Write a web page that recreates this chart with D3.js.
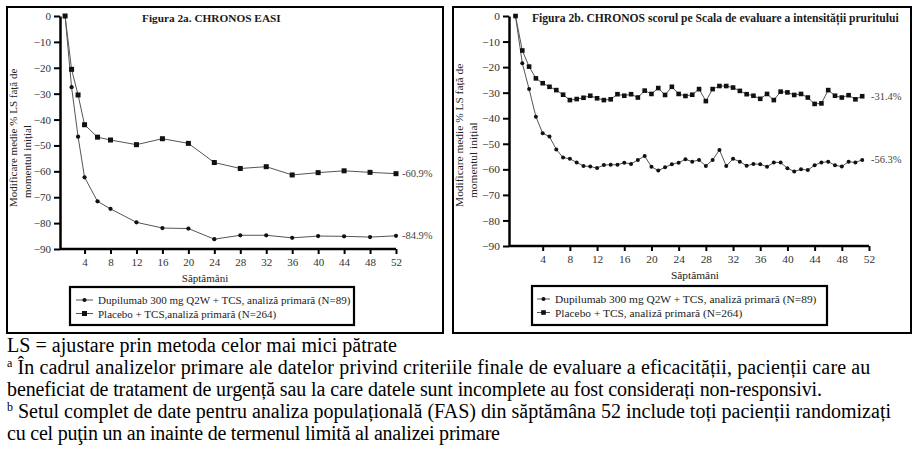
<!DOCTYPE html>
<html>
<head>
<meta charset="utf-8">
<script src="https://cdn.jsdelivr.net/npm/d3@7/dist/d3.min.js"></script>
<style>
  html, body { margin: 0; padding: 0; background: #fff; }
  svg { display: block; }
  text { font-family: "Liberation Serif", "Times New Roman", serif; }
</style>
</head>
<body>
<svg id="chart" width="918" height="458"></svg>
<script>
// ---------- DATA ----------
const weeksA = [1, 2, 3, 4, 6, 8, 12, 16, 20, 24, 28, 32, 36, 40, 44, 48, 52];
const easiDupilumab = [0, -27.5, -46.6, -62.3, -71.6, -74.5, -79.7, -81.9, -82.1, -86.2, -84.7, -84.7, -85.7, -85.0, -85.1, -85.4, -84.9];
const easiPlacebo = [0, -20.6, -30.5, -42.0, -46.8, -47.9, -49.7, -47.4, -49.2, -56.6, -58.9, -58.2, -61.4, -60.5, -59.8, -60.4, -60.9];

const weeksB = [0,1,2,3,4,5,6,7,8,9,10,11,12,13,14,15,16,17,18,19,20,21,22,23,24,25,26,27,28,29,30,31,32,33,34,35,36,37,38,39,40,41,42,43,44,45,46,47,48,49,50,51];
const prurDupilumab = [0,-18.5,-28.6,-39.4,-45.9,-47.2,-52.2,-55.4,-55.9,-57.3,-58.7,-58.9,-59.5,-58.3,-58.2,-58.2,-57.4,-57.9,-56.3,-54.8,-59.0,-60.5,-59.2,-58.0,-57.4,-56.1,-57.0,-56.3,-58.7,-56.3,-52.4,-58.7,-55.9,-57.0,-58.6,-57.9,-58.0,-59.0,-57.3,-57.3,-59.6,-60.8,-60.0,-60.3,-58.4,-57.3,-57.0,-58.4,-58.9,-57.0,-57.3,-56.3];
const prurPlacebo = [0,-13.5,-19.8,-24.4,-26.3,-27.7,-29.0,-30.8,-32.9,-32.5,-32.0,-31.2,-32.2,-32.9,-32.6,-30.6,-31.2,-30.6,-31.9,-29.2,-30.5,-28.2,-30.9,-27.7,-30.5,-31.3,-30.8,-28.6,-33.3,-28.6,-27.4,-27.4,-28.0,-29.3,-30.6,-31.2,-32.4,-30.5,-32.9,-29.6,-29.9,-30.9,-30.5,-31.9,-34.4,-34.2,-29.0,-31.2,-31.9,-31.0,-32.6,-31.4];

const xTickValues = [4, 8, 12, 16, 20, 24, 28, 32, 36, 40, 44, 48, 52];
const yTickValues = [0, -10, -20, -30, -40, -50, -60, -70, -80, -90];

const titleA = "Figura 2a. CHRONOS EASI";
const titleB = "Figura 2b. CHRONOS scorul pe Scala de evaluare a intensității pruritului";
const yTitle1 = "Modificare medie % LS față de";
const yTitle2 = "momentul inițial";
const xTitle = "Săptămâni";
const legendA = ["Dupilumab 300 mg Q2W + TCS, analiză primară  (N=89)", "Placebo + TCS,analiză primară (N=264)"];
const legendB = ["Dupilumab 300 mg Q2W + TCS, analiză primară (N=89)", "Placebo + TCS, analiză primară (N=264)"];
const endLabelsA = ["-84.9%", "-60.9%"];
const endLabelsB = ["-56.3%", "-31.4%"];

const footnotes = [
  {sup: "", text: "LS = ajustare prin metoda celor mai mici pătrate", w: 390},
  {sup: "a", text: " În cadrul analizelor primare ale datelor privind criteriile finale de evaluare a eficacității, pacienții care au", w: 858},
  {sup: "", text: "beneficiat de tratament de urgență sau la care datele sunt incomplete au fost considerați non-responsivi.", w: 815},
  {sup: "b", text: " Setul complet de date pentru analiza populațională (FAS) din săptămâna 52 include toți pacienții randomizați", w: 878},
  {sup: "", text: "cu cel puţin un an inainte de termenul limită al analizei primare", w: 493}
];

// ---------- DRAW ----------
const svg = d3.select("#chart");

function drawPanel(p) {
  const g = svg.append("g");
  g.append("rect").attr("x", p.box[0]).attr("y", p.box[1]).attr("width", p.box[2]).attr("height", p.box[3])
    .attr("fill", "none").attr("stroke", "#000").attr("stroke-width", 2);

  const x = d3.scaleLinear().domain([0, 52]).range(p.xRange);
  const y = d3.scaleLinear().domain([0, -90]).range(p.yRange);

  g.append("text").attr("x", p.titleX).attr("y", 22).attr("font-size", p.titleSize).attr("font-weight", "bold")
    .attr("fill", "#1a1a1a").text(p.title);

  const ya = g.append("g").attr("transform", `translate(${p.axisX},0)`)
    .call(d3.axisLeft(y).tickValues(yTickValues).tickSize(6).tickSizeOuter(0).tickPadding(3).tickFormat(d3.format("d")));
  ya.select(".domain").attr("stroke-width", 2.5).attr("stroke", "#000");
  ya.selectAll(".tick line").attr("stroke-width", 2).attr("stroke", "#000");
  ya.selectAll(".tick text").attr("font-family", "Liberation Serif").attr("font-size", p.fs).attr("fill", "#333");

  const xa = g.append("g").attr("transform", `translate(0,${p.yRange[1]})`)
    .call(d3.axisBottom(x).tickValues(xTickValues).tickSize(5).tickSizeOuter(0).tickPadding(4));
  xa.select(".domain").remove();
  xa.append("line").attr("x1", p.axisX).attr("x2", x(52)).attr("y1", 0).attr("y2", 0)
    .attr("stroke", "#000").attr("stroke-width", 2.5);
  xa.selectAll(".tick line").attr("stroke-width", 2).attr("stroke", "#000");
  xa.selectAll(".tick text").attr("font-family", "Liberation Serif").attr("font-size", p.fs).attr("fill", "#333");

  g.append("text").attr("x", p.xTitleX).attr("y", p.yRange[1] + 33).attr("text-anchor", "middle")
    .attr("font-size", p.fs).attr("fill", "#222").text(xTitle);
  g.append("text").attr("transform", `translate(${p.box[0] + 10},207) rotate(-90)`)
    .attr("font-size", p.fs).attr("fill", "#222").text(yTitle1);
  g.append("text").attr("transform", `translate(${p.box[0] + 24},198) rotate(-90)`)
    .attr("font-size", p.fs).attr("fill", "#222").text(yTitle2);

  const line = d3.line().x(d => x(d[0])).y(d => y(d[1]));
  p.series.forEach(s => {
    const pts = p.weeks.map((w, i) => [w, s.values[i]]);
    g.append("path").datum(pts).attr("d", line).attr("fill", "none").attr("stroke", "#555").attr("stroke-width", 1);
    if (s.shape === "square") {
      g.selectAll(null).data(pts).enter().append("rect")
        .attr("x", d => x(d[0]) - p.sq / 2).attr("y", d => y(d[1]) - p.sq / 2)
        .attr("width", p.sq).attr("height", p.sq).attr("fill", "#111");
    } else {
      g.selectAll(null).data(pts).enter().append("circle")
        .attr("cx", d => x(d[0])).attr("cy", d => y(d[1])).attr("r", p.cr).attr("fill", "#111");
    }
    g.append("text").attr("x", p.endLabelX).attr("y", y(s.values[s.values.length - 1]) + 3.5)
      .attr("font-size", 10.5).attr("fill", "#444").text(s.endLabel);
  });

  const lg = g.append("g");
  lg.append("rect").attr("x", p.legend[0]).attr("y", p.legend[1]).attr("width", p.legend[2]).attr("height", p.legend[3])
    .attr("fill", "#fff").attr("stroke", "#000").attr("stroke-width", 2.2);
  p.series.forEach((s, i) => {
    const cy = p.legend[1] + 13 + i * 13.5;
    const lx = p.legend[0] + p.legSym[0];
    lg.append("line").attr("x1", lx).attr("x2", lx + p.legSym[1]).attr("y1", cy).attr("y2", cy)
      .attr("stroke", "#555").attr("stroke-width", 1);
    const mx = lx + p.legSym[1] / 2;
    if (s.shape === "square") {
      lg.append("rect").attr("x", mx - p.sq / 2).attr("y", cy - p.sq / 2).attr("width", p.sq).attr("height", p.sq).attr("fill", "#111");
    } else {
      lg.append("circle").attr("cx", mx).attr("cy", cy).attr("r", p.cr).attr("fill", "#111");
    }
    lg.append("text").attr("x", lx + p.legSym[1] + 5).attr("y", cy + 4).attr("font-size", p.fs).attr("fill", "#222").text(s.legend);
  });
}

drawPanel({
  box: [7, 7, 436, 326],
  xRange: [58.6, 396], yRange: [16, 249], axisX: 60,
  title: titleA, titleX: 142, titleSize: 11.3, fs: 11,
  xTitleX: 205, endLabelX: 402,
  weeks: weeksA, sq: 5, cr: 2.1,
  legend: [70, 287, 284, 38], legSym: [6, 17],
  series: [
    {values: easiDupilumab, shape: "circle", legend: legendA[0], endLabel: endLabelsA[0]},
    {values: easiPlacebo, shape: "square", legend: legendA[1], endLabel: endLabelsA[1]}
  ]
});

drawPanel({
  box: [453, 7, 458, 326],
  xRange: [515.5, 869], yRange: [16, 246], axisX: 509,
  title: titleB, titleX: 532, titleSize: 11.6, fs: 11.4,
  xTitleX: 695, endLabelX: 871,
  weeks: weeksB, sq: 4.6, cr: 2,
  legend: [532, 286, 295, 39], legSym: [5, 13],
  series: [
    {values: prurDupilumab, shape: "circle", legend: legendB[0], endLabel: endLabelsB[0]},
    {values: prurPlacebo, shape: "square", legend: legendB[1], endLabel: endLabelsB[1]}
  ]
});

const fn = svg.append("g");
footnotes.forEach((f, i) => {
  const t = fn.append("text").attr("x", 7).attr("y", 352 + i * 22).attr("font-size", 20).attr("fill", "#000");
  if (f.sup) {
    t.append("tspan").attr("font-size", 12).attr("dy", -7).text(f.sup);
    t.append("tspan").attr("dy", 7).attr("textLength", f.w).attr("lengthAdjust", "spacing").text(f.text);
  } else {
    t.append("tspan").attr("textLength", f.w).attr("lengthAdjust", "spacing").text(f.text);
  }
});
</script>
</body>
</html>
